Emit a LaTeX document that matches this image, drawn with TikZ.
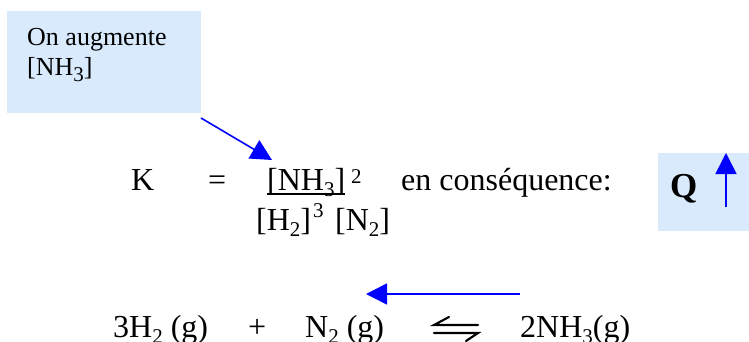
\documentclass[tikz,border=0pt]{standalone}
\usepackage{fontspec}
\setmainfont{Liberation Serif}
\usetikzlibrary{arrows.meta,calc}
\definecolor{boxblue}{RGB}{217,234,252}
\definecolor{arrblue}{RGB}{0,0,255}
\tikzset{
  txt/.style={anchor=base west,inner sep=0pt,font=\fontsize{32}{38}\selectfont},
  small/.style={anchor=base west,inner sep=0pt,font=\fontsize{26}{30}\selectfont},
  supr/.style={anchor=base west,inner sep=0pt,font=\fontsize{21}{24}\selectfont},
  hint/.style={fill=boxblue,draw=none},
  bluearrow/.style={draw=arrblue,line width=1.6pt,-{Triangle[length=21pt,width=21pt]}},
  harp/.style={line width=2.1pt,line cap=round}
}
\newcommand{\sbs}[1]{\raisebox{-0.2em}{\fontsize{21}{24}\selectfont #1}}
\begin{document}
\begin{tikzpicture}[x=1pt,y=-1pt]
\useasboundingbox (0,0) rectangle (749,342);
% boxes
\node[hint,minimum width=194pt,minimum height=102pt,anchor=north west,inner sep=0pt] (box1) at (7,11) {};
\node[hint,minimum width=91pt,minimum height=78pt,anchor=north west,inner sep=0pt] (box2) at (658,153) {};
\node[small] (t1) at (27,46) {On augmente};
\node[small] (t2) at (27,76) {[NH\sbs{3}]};
% equation K
\node[txt] (K) at (131,190) {K};
\node[txt] (eq) at (208,190) {=};
\node[txt] (num) at (267,190) {[NH\sbs{3}]};
\node[supr] (sup2) at (351,183) {2};
\node[txt] (den1) at (256,230) {[H\sbs{2}]};
\node[supr] (sup3) at (313,217) {3};
\node[txt] (den2) at (335,230) {[N\sbs{2}]};
\coordinate (ul1) at ($(num.base west)+(0,4)$);
\coordinate (ul2) at ($(num.base east)+(0,4)$);
\draw[line width=1.4pt] (ul1) -- (ul2);
\node[txt] (cons) at (401,190) {en conséquence:};
\node[txt,font=\fontsize{35}{40}\selectfont\bfseries] (Q) at (670,197) {Q};
% reaction
\node[txt] (r1) at (113,337) {3H\sbs{2} (g)};
\node[txt] (plus) at (248,337) {+};
\node[txt] (r2) at (305,337) {N\sbs{2} (g)};
\node[txt] (p1) at (520,337) {2NH\sbs{3}(g)};
% equilibrium harpoons
\coordinate (ha) at (434,325);
\coordinate (hb) at (478,325);
\coordinate (hc) at (434,333);
\coordinate (hd) at (478,333);
\draw[harp] (hb) -- (ha) -- ++(15,-8);
\draw[harp] (hc) -- (hd) -- ++(-12,8);
% arrows
\coordinate (a1s) at (201,118);
\coordinate (a1e) at (272,160);
\draw[bluearrow] (a1s) -- (a1e);
\coordinate (a2s) at (726,207);
\coordinate (a2e) at (726,153);
\draw[bluearrow] (a2s) -- (a2e);
\coordinate (a3s) at (520,294);
\coordinate (a3e) at (366,294);
\draw[bluearrow] (a3s) -- (a3e);
\end{tikzpicture}
\end{document}
